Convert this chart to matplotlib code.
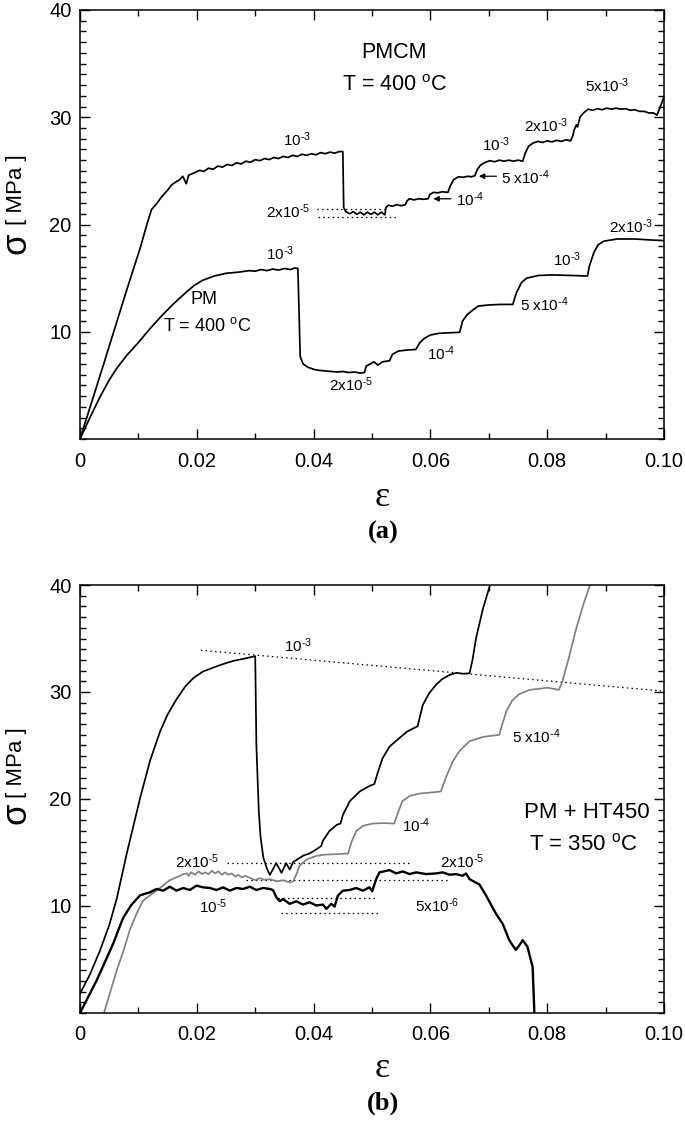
import matplotlib
matplotlib.use("Agg")
import matplotlib.pyplot as plt
from matplotlib.ticker import MultipleLocator, FixedLocator

plt.rcParams['font.family'] = ['Liberation Sans', 'DejaVu Sans']
plt.rcParams['mathtext.fontset'] = 'custom'
plt.rcParams['mathtext.rm'] = 'Liberation Sans'
plt.rcParams['mathtext.it'] = 'Liberation Sans:italic'
plt.rcParams['mathtext.default'] = 'regular'

# ---------------- Panel (a) data ----------------
pmcm_eps = [0, 0.004, 0.008, 0.0103, 0.0115, 0.01225, 0.0132, 0.0140, 0.0150, 0.0157,
            0.0165, 0.0171, 0.0176, 0.0182, 0.0186, 0.0195, 0.0205, 0.0212, 0.0220, 0.0228,
            0.0236, 0.0244, 0.0252, 0.0260, 0.0268, 0.0276, 0.0284, 0.0292, 0.0300, 0.0308,
            0.0316, 0.0324, 0.0332, 0.0340, 0.0348, 0.0356, 0.0364, 0.0372, 0.0380, 0.0388,
            0.0396, 0.0404, 0.0412, 0.0420, 0.0428, 0.0436, 0.0444, 0.0450, 0.04515, 0.0455,
            0.0462, 0.0468, 0.0474, 0.0480, 0.0486, 0.0492, 0.0498, 0.0504, 0.0510, 0.0516,
            0.0522, 0.0524, 0.0528, 0.0535, 0.0542, 0.0550, 0.0557, 0.0560, 0.0564, 0.0572,
            0.0580, 0.0588, 0.0596, 0.0599, 0.0605, 0.0612, 0.0620, 0.0630, 0.0634, 0.0640,
            0.0648, 0.0656, 0.0664, 0.0670, 0.0676, 0.0680, 0.0686, 0.0694, 0.0702, 0.0710,
            0.0718, 0.0726, 0.0734, 0.0742, 0.0750, 0.0758, 0.0762, 0.0768, 0.0776, 0.0784,
            0.0792, 0.0800, 0.0808, 0.0816, 0.0824, 0.0832, 0.0840, 0.0844, 0.0846, 0.0850,
            0.0852, 0.0856, 0.0862, 0.0870, 0.0878, 0.0886, 0.0894, 0.0902, 0.0910, 0.0918,
            0.0926, 0.0934, 0.0942, 0.0950, 0.0958, 0.0966, 0.0974, 0.0982, 0.0988, 0.0993,
            0.1000]
pmcm_sig = [0, 6.9, 13.9, 17.8, 20.1, 21.4, 22.0, 22.6, 23.2, 23.7,
            24.0, 24.2, 24.5, 23.8, 24.6, 24.8, 25.05, 24.95, 25.25, 25.15,
            25.45, 25.35, 25.6, 25.5, 25.75, 25.65, 25.9, 25.8, 26.05, 25.95,
            26.15, 26.05, 26.25, 26.15, 26.35, 26.25, 26.45, 26.35, 26.55, 26.45,
            26.6, 26.5, 26.7, 26.6, 26.75, 26.65, 26.8, 26.8, 21.6, 21.2,
            21.0, 21.2, 20.95, 21.15, 20.9, 21.15, 20.95, 21.15, 20.9, 21.15,
            20.9, 21.6, 21.8, 21.7, 21.85, 21.75, 21.85, 22.2, 22.4, 22.3,
            22.4, 22.35, 22.4, 22.8, 23.0, 22.95, 23.05, 23.0, 23.6, 24.2,
            24.45, 24.4, 24.5, 24.45, 24.55, 25.1, 25.55, 25.8, 25.95, 25.85,
            26.0, 25.9, 26.0, 25.9, 26.0, 25.9, 26.6, 27.3, 27.6, 27.75,
            27.65, 27.8, 27.7, 27.85, 27.75, 27.9, 27.8, 28.3, 28.8, 29.3,
            29.1, 30.0, 30.4, 30.75, 30.65, 30.8, 30.7, 30.85, 30.75, 30.85,
            30.75, 30.8, 30.65, 30.7, 30.55, 30.55, 30.4, 30.4, 30.2, 30.9,
            31.9]

pm_eps = [0, 0.0017, 0.0034, 0.0050, 0.0063, 0.0080, 0.0100, 0.0120, 0.0140, 0.0160,
          0.0180, 0.0195, 0.0210, 0.0230, 0.0250, 0.0270, 0.0290, 0.0300, 0.0310, 0.0320,
          0.0330, 0.0340, 0.0350, 0.0360, 0.0368, 0.0373, 0.0375, 0.0377, 0.0382, 0.0390,
          0.0400, 0.0410, 0.0420, 0.0430, 0.0440, 0.0450, 0.0460, 0.0470, 0.0480, 0.0487,
          0.0490, 0.0497, 0.0503, 0.0510, 0.0518, 0.0530, 0.0535, 0.0545, 0.0560, 0.0575,
          0.0582, 0.0590, 0.0600, 0.0614, 0.0630, 0.0650, 0.0655, 0.0663, 0.0672, 0.0682,
          0.0700, 0.0720, 0.0741, 0.0747, 0.0756, 0.0765, 0.0785, 0.0810, 0.0840, 0.0869,
          0.0872, 0.0880, 0.0887, 0.0897, 0.0920, 0.0950, 0.0980, 0.1000]
pm_sig = [0, 2.0, 3.9, 5.5, 6.6, 7.8, 9.0, 10.3, 11.5, 12.6,
          13.6, 14.3, 14.8, 15.2, 15.45, 15.55, 15.7, 15.65, 15.8, 15.7,
          15.85, 15.75, 15.9, 15.8, 15.95, 15.9, 12.0, 7.7, 7.0, 6.7,
          6.5, 6.4, 6.35, 6.3, 6.25, 6.3, 6.2, 6.25, 6.15, 6.2,
          6.8, 7.0, 7.2, 6.9, 7.2, 7.3, 7.9, 8.2, 8.3, 8.35,
          9.0, 9.4, 9.7, 9.85, 9.9, 9.95, 11.0, 11.6, 12.0, 12.4,
          12.5, 12.55, 12.55, 13.6, 14.6, 15.0, 15.25, 15.3, 15.25, 15.2,
          16.1, 17.4, 18.1, 18.45, 18.65, 18.65, 18.55, 18.5]

# dotted reference lines (a): (eps start, eps end, sigma)
a_dot_eps0 = [0.0405, 0.0407]
a_dot_eps1 = [0.0525, 0.0544]
a_dot_sig = [21.4, 20.7]

# ---------------- Panel (b) data ----------------
b1_eps = [0, 0.0017, 0.0034, 0.0050, 0.0063, 0.0080, 0.0103, 0.0120, 0.0137, 0.0150,
          0.0165, 0.0180, 0.0194, 0.0210, 0.0234, 0.0250, 0.0262, 0.0275, 0.0288, 0.0300,
          0.0302, 0.0306, 0.0309, 0.0314, 0.0320, 0.0325, 0.0336, 0.0345, 0.0353, 0.0359,
          0.0365, 0.0382, 0.0393, 0.0405, 0.0413, 0.0416, 0.0427, 0.0440, 0.0446, 0.0450,
          0.0462, 0.0479, 0.0495, 0.0504, 0.0510, 0.0518, 0.0530, 0.0547, 0.0560, 0.0578,
          0.0587, 0.0598, 0.0610, 0.0620, 0.0633, 0.0645, 0.0655, 0.0667, 0.0672, 0.0678,
          0.0690, 0.0701, 0.0703]
b1_sig = [1.8, 3.6, 5.8, 8.2, 10.7, 14.9, 20.1, 23.6, 26.3, 27.9,
          29.3, 30.5, 31.3, 31.9, 32.4, 32.7, 32.9, 33.05, 33.2, 33.35,
          25.0, 19.0, 16.5, 14.5, 13.5, 12.9, 14.0, 13.1, 14.0, 13.4,
          14.1, 14.7, 14.9, 15.3, 15.6, 16.1, 17.0, 17.6, 17.7, 18.5,
          19.8, 20.7, 21.2, 21.4, 22.5, 23.8, 24.9, 25.7, 26.3, 26.8,
          28.8, 29.9, 30.7, 31.2, 31.6, 31.8, 31.7, 31.75, 33.0, 35.0,
          37.8, 39.8, 40.2]

b2_eps = [0.0041, 0.0052, 0.0063, 0.0075, 0.0085, 0.0097, 0.0108, 0.0120, 0.0130, 0.0142,
          0.0152, 0.0165, 0.0177, 0.0183, 0.0186, 0.0190, 0.0197, 0.0203, 0.0209, 0.0214,
          0.0220, 0.0226, 0.0231, 0.0237, 0.0243, 0.0248, 0.0254, 0.0260, 0.0266, 0.0271,
          0.0277, 0.0283, 0.0291, 0.0300, 0.0308, 0.0316, 0.0325, 0.0337, 0.0348, 0.0359,
          0.0365, 0.0370, 0.0376, 0.0382, 0.0387, 0.0393, 0.0405, 0.0420, 0.0440, 0.0459,
          0.0465, 0.0473, 0.0485, 0.0501, 0.0520, 0.0538, 0.0545, 0.0552, 0.0565, 0.0581,
          0.0600, 0.0618, 0.0625, 0.0638, 0.0650, 0.0667, 0.0690, 0.0718, 0.0722, 0.0730,
          0.0740, 0.0752, 0.0770, 0.0786, 0.0800, 0.0820, 0.0826, 0.0838, 0.0850, 0.0862,
          0.0872, 0.0874]
b2_sig = [0, 2.0, 4.0, 5.9, 7.7, 9.3, 10.5, 11.0, 11.4, 11.9,
          12.36, 12.67, 12.98, 13.04, 12.82, 13.14, 12.92, 13.23, 12.98, 13.14,
          12.98, 13.29, 13.04, 13.23, 12.92, 13.14, 12.92, 13.04, 12.73, 12.92,
          12.67, 12.82, 12.61, 12.42, 12.6, 12.45, 12.5, 12.3, 12.4, 12.2,
          12.3, 12.9, 13.75, 14.06, 14.3, 14.46, 14.68, 14.8, 14.84, 14.9,
          16.0, 17.0, 17.5, 17.7, 17.75, 17.7, 18.8, 19.8, 20.3, 20.5,
          20.6, 20.7, 21.8, 23.5, 24.5, 25.4, 25.8, 26.0, 26.8, 28.2,
          29.2, 29.8, 30.2, 30.3, 30.4, 30.2, 31.0, 33.4, 36.0, 38.2,
          39.8, 40.2]

b3_eps = [0, 0.0015, 0.0029, 0.0043, 0.0057, 0.0066, 0.0074, 0.0088, 0.0103, 0.0115,
          0.01197, 0.01311, 0.01425, 0.01538, 0.01652, 0.01766, 0.0188, 0.01994, 0.02108, 0.02222,
          0.02336, 0.0245, 0.02564, 0.02678, 0.02792, 0.02906, 0.0302, 0.03134, 0.03248, 0.03305,
          0.03362, 0.03419, 0.03476, 0.0359, 0.03704, 0.03818, 0.03932, 0.04046, 0.0416, 0.04217,
          0.04302, 0.04359, 0.04416, 0.04501, 0.04615, 0.04729, 0.04843, 0.04957, 0.05003, 0.05071,
          0.05128, 0.05299, 0.05413, 0.05527, 0.05641, 0.05755, 0.05926, 0.06097, 0.06211, 0.06325,
          0.06439, 0.06553, 0.0661, 0.0667, 0.0684, 0.0695, 0.0712, 0.0724, 0.0735, 0.0746,
          0.0752, 0.0758, 0.0766, 0.0775, 0.0778]
b3_sig = [0, 1.6, 3.1, 4.8, 6.5, 7.8, 8.9, 10.1, 11.0, 11.2,
          11.27, 11.59, 11.43, 11.8, 11.43, 11.68, 11.49, 11.9, 11.74, 11.68,
          11.49, 11.74, 11.43, 11.68, 11.59, 11.8, 11.49, 11.68, 11.59, 11.49,
          10.81, 10.44, 10.65, 10.2, 10.44, 10.13, 10.35, 10.04, 10.13, 9.73,
          10.2, 9.94, 10.97, 11.43, 11.49, 11.68, 11.43, 11.74, 11.37, 12.51,
          13.14, 13.35, 13.04, 13.23, 12.98, 13.14, 12.98, 13.04, 13.14, 12.92,
          12.98, 12.82, 13.04, 12.5, 12.0, 11.0, 9.3, 8.3, 6.8, 5.9,
          6.3, 6.8, 6.2, 4.3, 0]

# dotted reference lines (b)
b_slope_eps = [0.0207, 0.0995]
b_slope_sig = [33.9, 30.1]
b_dot_eps0 = [0.0251, 0.0285, 0.0339, 0.0345]
b_dot_eps1 = [0.0564, 0.0633, 0.0507, 0.0513]
b_dot_sig = [14.0, 12.4, 10.7, 9.3]

x_ticks = [0, 0.02, 0.04, 0.06, 0.08, 0.10]
x_tick_labels = ['0', '0.02', '0.04', '0.06', '0.08', '0.10']
y_ticks = [10, 20, 30, 40]
y_tick_labels = ['10', '20', '30', '40']

# ---------------- Figure ----------------
fig = plt.figure(figsize=(6.85, 11.22), dpi=100)
axa = fig.add_axes([0.1168, 0.6087, 0.8526, 0.3824])
axb = fig.add_axes([0.1168, 0.0972, 0.8526, 0.3814])

dot = (0, (1.2, 2.6))
LW = 1.25


def sup(base, exp):
    return base + r'$^{\text{' + exp + '}}$'


def style(ax):
    ax.set_xlim(0, 0.10)
    ax.set_ylim(0, 40)
    ax.xaxis.set_major_locator(FixedLocator(x_ticks))
    ax.set_xticklabels(x_tick_labels)
    ax.xaxis.set_minor_locator(MultipleLocator(0.01))
    ax.yaxis.set_major_locator(FixedLocator(y_ticks))
    ax.set_yticklabels(y_tick_labels)
    ax.yaxis.set_minor_locator(MultipleLocator(1))
    ax.tick_params(which='both', direction='in', top=True, right=True,
                   labelsize=14.5, width=1.0, colors='black')
    ax.tick_params(which='major', length=7)
    ax.tick_params(which='minor', length=4)
    ax.tick_params(axis='x', pad=9)
    ax.tick_params(axis='y', pad=6)
    for s in ax.spines.values():
        s.set_linewidth(1.1)


# Panel (a)
axa.plot(pmcm_eps, pmcm_sig, color='black', lw=LW)
axa.plot(pm_eps, pm_sig, color='black', lw=LW)
for e0, e1, s in zip(a_dot_eps0, a_dot_eps1, a_dot_sig):
    axa.plot([e0, e1], [s, s], color='black', lw=0.9, linestyle=dot)
style(axa)

fs = 11
axa.text(0.0537, 36.0, 'PMCM', ha='center', va='center', fontsize=15.5)
axa.text(0.0538, 33.0, sup('T = 400 ', 'o') + 'C', ha='center', va='center', fontsize=15.5)
axa.text(0.0371, 27.9, sup('10', '-3'), ha='center', va='center', fontsize=fs)
axa.text(0.0712, 27.4, sup('10', '-3'), ha='center', va='center', fontsize=fs)
axa.text(0.0798, 29.2, sup('2x10', '-3'), ha='center', va='center', fontsize=fs)
axa.text(0.0903, 32.9, sup('5x10', '-3'), ha='center', va='center', fontsize=fs)
axa.annotate('', xy=(0.0683, 24.5), xytext=(0.0713, 24.5),
             arrowprops=dict(arrowstyle='-|>', color='black', lw=0.9,
                             mutation_scale=8, shrinkA=0, shrinkB=0))
axa.text(0.0762, 24.4, sup('5 x10', '-4'), ha='center', va='center', fontsize=fs)
axa.annotate('', xy=(0.0605, 22.4), xytext=(0.0635, 22.4),
             arrowprops=dict(arrowstyle='-|>', color='black', lw=0.9,
                             mutation_scale=8, shrinkA=0, shrinkB=0))
axa.text(0.0668, 22.3, sup('10', '-4'), ha='center', va='center', fontsize=fs)
axa.text(0.0357, 21.2, sup('2x10', '-5'), ha='center', va='center', fontsize=fs)
axa.text(0.0342, 17.3, sup('10', '-3'), ha='center', va='center', fontsize=fs)
axa.text(0.0212, 13.0, 'PM', ha='center', va='center', fontsize=13)
axa.text(0.0217, 10.5, sup('T = 400 ', 'o') + 'C', ha='center', va='center', fontsize=13)
axa.text(0.0464, 5.1, sup('2x10', '-5'), ha='center', va='center', fontsize=fs)
axa.text(0.0618, 8.0, sup('10', '-4'), ha='center', va='center', fontsize=fs)
axa.text(0.0795, 12.5, sup('5 x10', '-4'), ha='center', va='center', fontsize=fs)
axa.text(0.0834, 16.7, sup('10', '-3'), ha='center', va='center', fontsize=fs)
axa.text(0.0943, 19.8, sup('2x10', '-3'), ha='center', va='center', fontsize=fs)

# Panel (b)
axb.plot([b_slope_eps[0], b_slope_eps[1]], [b_slope_sig[0], b_slope_sig[1]],
         color='black', lw=0.9, linestyle=dot)
for e0, e1, s in zip(b_dot_eps0, b_dot_eps1, b_dot_sig):
    axb.plot([e0, e1], [s, s], color='black', lw=0.9, linestyle=dot)
axb.plot(b2_eps, b2_sig, color='#808080', lw=LW)
axb.plot(b1_eps, b1_sig, color='black', lw=LW)
axb.plot(b3_eps, b3_sig, color='black', lw=1.7)
style(axb)

axb.text(0.0373, 34.3, sup('10', '-3'), ha='center', va='center', fontsize=fs)
axb.text(0.0201, 14.1, sup('2x10', '-5'), ha='center', va='center', fontsize=fs)
axb.text(0.0227, 9.9, sup('10', '-5'), ha='center', va='center', fontsize=fs)
axb.text(0.0781, 25.8, sup('5 x10', '-4'), ha='center', va='center', fontsize=fs)
axb.text(0.0576, 17.5, sup('10', '-4'), ha='center', va='center', fontsize=fs)
axb.text(0.0867, 18.7, 'PM + HT450', ha='center', va='center', fontsize=16)
axb.text(0.0862, 15.8, sup('T = 350 ', 'o') + 'C', ha='center', va='center', fontsize=16)
axb.text(0.0655, 14.1, sup('2x10', '-5'), ha='center', va='center', fontsize=fs)
axb.text(0.0612, 10.0, sup('5x10', '-6'), ha='center', va='center', fontsize=fs)

# axis labels
for ys, ym in [(0.7834, 0.8307), (0.2754, 0.320)]:
    fig.text(0.0234, ys, '\u03c3', rotation=90, ha='center', va='center', fontsize=25)
    fig.text(0.0248, ym, '[ MPa ]', rotation=90, ha='center', va='center', fontsize=16)

serif = ['Liberation Serif', 'DejaVu Serif']
fig.text(0.5577, 0.557, '\u03b5', ha='center', va='center', fontsize=26, family=serif)
fig.text(0.559, 0.525, '(a)', ha='center', va='center', fontsize=19,
         family=serif, weight='bold')
fig.text(0.5577, 0.0481, '\u03b5', ha='center', va='center', fontsize=26, family=serif)
fig.text(0.559, 0.0169, '(b)', ha='center', va='center', fontsize=19,
         family=serif, weight='bold')

fig.savefig('out.png', dpi=100)
